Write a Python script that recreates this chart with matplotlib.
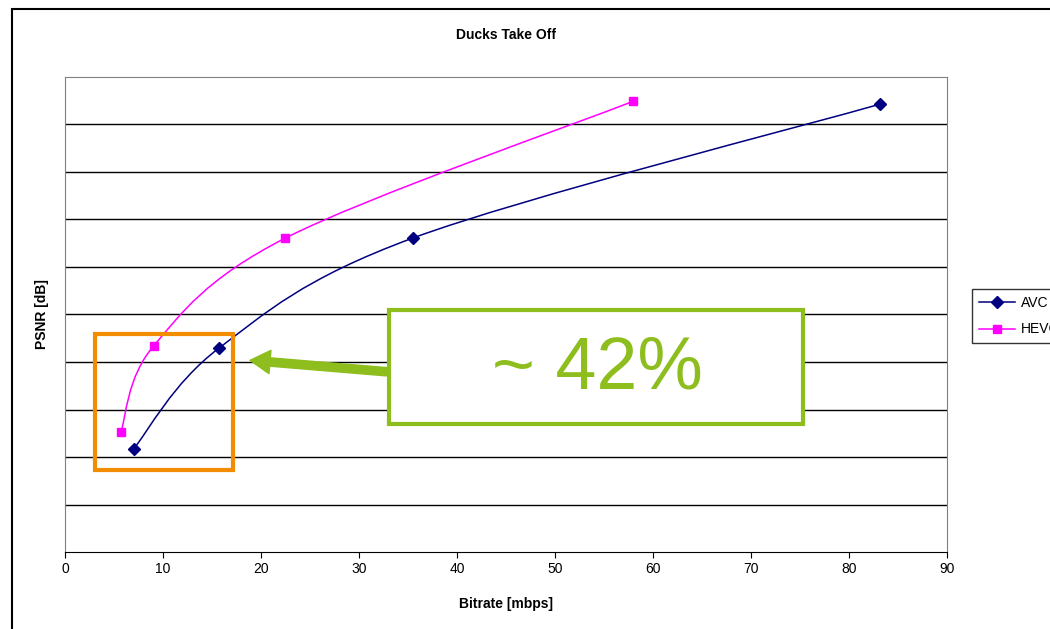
import matplotlib.pyplot as plt
import numpy as np
from matplotlib.path import Path
from matplotlib.patches import PathPatch, Rectangle, FancyArrowPatch

plt.rcParams['font.family'] = ['Liberation Sans', 'DejaVu Sans']

# rate / quality points per codec
avc_rate = [7.0, 15.7, 35.5, 83.2]
avc_psnr = [32.17, 34.29, 36.61, 39.43]
hevc_rate = [5.7, 9.05, 22.5, 58.0]
hevc_psnr = [32.53, 34.34, 36.61, 39.49]
x_ticks = [0, 10, 20, 30, 40, 50, 60, 70, 80, 90]
saving_text = '~ 42%'


def smooth_path(xs, ys):
    # bezier through the points, excel style smoothed line
    pts = np.column_stack([xs, ys])
    n = len(pts)
    verts = [pts[0]]
    codes = [Path.MOVETO]
    for i in range(n - 1):
        p0 = pts[i - 1] if i > 0 else pts[i]
        p1 = pts[i]
        p2 = pts[i + 1]
        p3 = pts[i + 2] if i + 2 < n else pts[i + 1]
        c1 = p1 + (p2 - p0) / 6.0
        c2 = p2 - (p3 - p1) / 6.0
        verts += [c1, c2, p2]
        codes += [Path.CURVE4] * 3
    return Path(verts, codes)


fig = plt.figure(figsize=(10.5, 6.29), dpi=100)
ax = fig.add_axes([0.0619, 0.1224, 0.84, 0.7552])

# outer chart border
fig.patches.append(Rectangle((12 / 1050, -0.1), 1.2, 1 - 9 / 629 + 0.1,
                             transform=fig.transFigure, fill=False,
                             edgecolor='black', lw=1.5))

for xs, ys, col, mk, ms, lab in [(avc_rate, avc_psnr, '#000080', 'D', 6, 'AVC'),
                                 (hevc_rate, hevc_psnr, '#FF00FF', 's', 6, 'HEVC')]:
    ax.add_patch(PathPatch(smooth_path(xs, ys), fill=False, edgecolor=col, lw=1.1, zorder=3))
    ax.plot(xs, ys, linestyle='none', marker=mk, color=col, markersize=ms, zorder=4)
    ax.plot([], [], color=col, marker=mk, markersize=ms, lw=1.1, label=lab)

ax.set_xlim(0, 90)
ax.set_ylim(30, 40)
ax.set_xticks(x_ticks)
ax.set_yticks(np.arange(31, 40, 1))
ax.set_yticklabels([])
ax.tick_params(axis='y', length=0)
ax.tick_params(axis='x', length=4, labelsize=10)
ax.yaxis.grid(True, color='black', lw=1)
ax.set_axisbelow(True)
for s in ['top', 'right', 'left']:
    ax.spines[s].set_color('#808080')
ax.spines['bottom'].set_color('black')

ax.set_title('Ducks Take Off', fontsize=10, fontweight='bold', pad=27)
ax.set_xlabel('Bitrate [mbps]', fontsize=10, fontweight='bold', labelpad=15)
ax.set_ylabel('PSNR [dB]', fontsize=10, fontweight='bold', labelpad=8)

# legend sits partly past the right edge of the chart
leg = ax.legend(loc='upper left', bbox_to_anchor=(972 / 1050, 1 - 289 / 629),
                bbox_transform=fig.transFigure, frameon=True, fancybox=False,
                fontsize=10, handlelength=2.6, handletextpad=0.4,
                labelspacing=0.9, borderaxespad=0, borderpad=0.5)
leg.get_frame().set_edgecolor('black')

# highlight box and savings callout
ax.add_patch(Rectangle((3.03, 31.73), 14.07, 2.86, fill=False,
                       edgecolor='#F28C00', lw=3, zorder=5, clip_on=False))
ax.add_patch(Rectangle((33.1, 32.69), 42.2, 2.4, facecolor='white',
                       edgecolor='#8DBE1E', lw=3, zorder=5))
ax.text(54.3, 33.85, saving_text, fontsize=53, color='#8DBE1E',
        ha='center', va='center', zorder=6)
ax.add_patch(FancyArrowPatch((33.1, 33.79), (18.6, 34.04),
                             arrowstyle='simple,head_length=1.2,head_width=1.4,tail_width=0.5',
                             mutation_scale=12, color='#8DBE1E', zorder=6))

plt.savefig('out.png')
